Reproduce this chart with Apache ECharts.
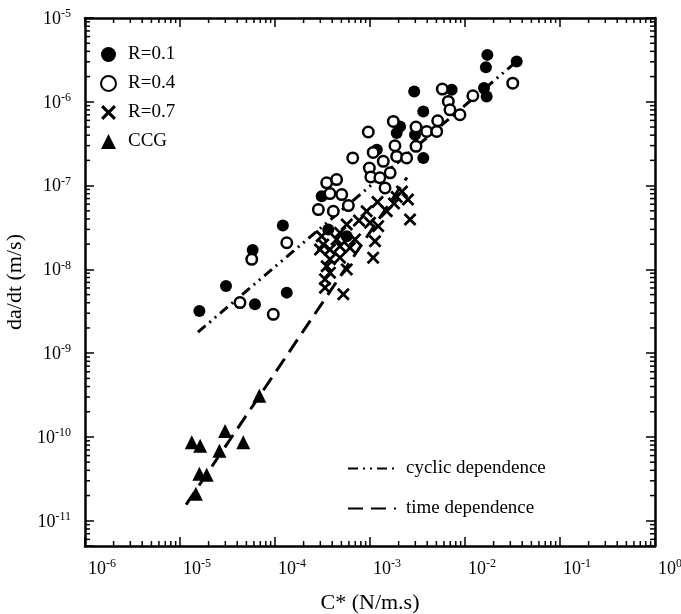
<!DOCTYPE html>
<html>
<head>
<meta charset="utf-8">
<script src="https://cdn.jsdelivr.net/npm/echarts@6/dist/echarts.min.js"></script>
<style>html,body{margin:0;padding:0;background:#fff}#c{width:681px;height:614px}</style>
</head>
<body>
<div id="c"></div>
<script>
// ---- data (C* in N/m.s, da/dt in m/s) ----
const seriesNames = ['R=0.1', 'R=0.4', 'R=0.7', 'CCG'];
const lineNames = ['cyclic dependence', 'time dependence'];
const r01 = [[1.60e-5,3.19e-9],[3.05e-5,6.33e-9],[5.82e-5,1.70e-8],[6.15e-5,3.83e-9],[1.33e-4,5.28e-9],[1.21e-4,3.34e-8],[3.10e-4,7.46e-8],[3.64e-4,2.99e-8],[5.69e-4,2.49e-8],[1.18e-3,2.68e-7],[1.91e-3,4.24e-7],[2.07e-3,5.08e-7],[2.92e-3,1.33e-6],[2.98e-3,4.05e-7],[3.64e-3,7.67e-7],[3.64e-3,2.14e-7],[7.24e-3,1.39e-6],[1.585e-2,1.46e-6],[1.69e-2,1.16e-6],[1.72e-2,3.63e-6],[1.66e-2,2.59e-6],[3.50e-2,3.02e-6]];
const r04 = [[4.28e-5,4.02e-9],[5.69e-5,1.32e-8],[9.59e-5,2.91e-9],[1.33e-4,2.08e-8],[2.86e-4,5.18e-8],[3.50e-4,1.08e-7],[4.45e-4,1.18e-7],[4.11e-4,4.94e-8],[3.79e-4,8.03e-8],[5.04e-4,7.81e-8],[5.92e-4,5.78e-8],[6.58e-4,2.14e-7],[9.59e-4,4.36e-7],[9.84e-4,1.62e-7],[1.08e-3,2.49e-7],[1.02e-3,1.27e-7],[1.27e-3,1.24e-7],[1.38e-3,1.95e-7],[1.44e-3,9.39e-8],[1.63e-3,1.42e-7],[1.76e-3,5.83e-7],[1.83e-3,2.99e-7],[1.91e-3,2.23e-7],[2.43e-3,2.14e-7],[3.05e-3,5.00e-7],[3.05e-3,2.94e-7],[3.95e-3,4.43e-7],[5.04e-3,4.43e-7],[5.16e-3,5.94e-7],[5.77e-3,1.42e-6],[6.67e-3,1.01e-6],[6.95e-3,8.03e-7],[8.85e-3,7.00e-7],[1.21e-2,1.18e-6],[3.18e-2,1.67e-6]];
const r07 = [[2.51e-3,6.81e-8],[2.64e-3,3.94e-8],[1.91e-3,7.30e-8],[1.79e-3,6.11e-8],[1.20e-3,6.37e-8],[1.50e-3,4.94e-8],[9.22e-4,4.94e-8],[7.66e-4,3.83e-8],[5.69e-4,3.43e-8],[4.83e-4,2.73e-8],[1.0e-3,3.60e-8],[1.22e-3,3.28e-8],[3.10e-4,2.49e-8],[3.22e-4,1.98e-8],[2.98e-4,1.73e-8],[3.79e-4,1.73e-8],[4.83e-4,1.89e-8],[6.95e-4,2.28e-8],[6.15e-4,1.81e-8],[1.13e-3,2.17e-8],[1.08e-3,1.38e-8],[3.79e-4,1.32e-8],[4.83e-4,1.38e-8],[3.50e-4,1.09e-8],[5.69e-4,1.0e-8],[3.79e-4,9.14e-9],[3.36e-4,7.60e-9],[3.36e-4,6.05e-9],[5.24e-4,5.04e-9],[4.45e-4,2.28e-8],[2.17e-3,8.49e-8]];
const ccg = [[6.84e-5,3.10e-10],[4.63e-5,8.65e-11],[2.98e-5,1.18e-10],[1.33e-5,8.65e-11],[1.63e-5,7.87e-11],[2.60e-5,6.87e-11],[1.60e-5,3.63e-11],[1.91e-5,3.53e-11],[1.47e-5,2.10e-11]];
const cyclicLine = [[1.545e-5,1.78e-9],[3.36e-2,2.91e-6]];
const timeLine = [[1.16e-5,1.56e-11],[2.45e-3,1.25e-7]];
const xRange = [1e-6, 1];
const yRange = [5e-12, 1e-5];
const xTickExponents = [-6,-5,-4,-3,-2,-1,0];
const yTickExponents = [-11,-10,-9,-8,-7,-6,-5];

// minor tick values (2..9 per decade)
const minorMult = [2,3,4,5,6,7,8,9];
const xMinor = [];
xTickExponents.slice(0,-1).forEach(e => minorMult.forEach(m => xMinor.push(m*Math.pow(10,e))));
const yMinor = [];
[-12].concat(yTickExponents.slice(0,-1)).forEach(e => minorMult.forEach(m => { const v = m*Math.pow(10,e); if (v > yRange[0] && v < yRange[1]) yMinor.push(v); }));

const FONT = "'Liberation Serif', 'DejaVu Serif', serif";
const XSHAPE = 'path://M0,3 L3,0 L10,7 L17,0 L20,3 L13,10 L20,17 L17,20 L10,13 L3,20 L0,17 L7,10 Z';

function expLabel(v) {
  const e = Math.log10(v);
  const r = Math.round(e);
  if (Math.abs(e - r) > 1e-6) return '';
  return '{b|10}{s|' + r + '}';
}
const richLab = {
  b: { fontFamily: FONT, fontSize: 18, color: '#000', verticalAlign: 'bottom' },
  s: { fontFamily: FONT, fontSize: 12, color: '#000', verticalAlign: 'bottom', padding: [0,0,8,0] }
};

function minorX(params, api) {
  const p = api.coord([api.value(0), 1e-8]);
  const cs = params.coordSys;
  const st = { stroke: '#000', lineWidth: 1.5 };
  return { type: 'group', children: [
    { type: 'line', shape: { x1: p[0], y1: cs.y + cs.height, x2: p[0], y2: cs.y + cs.height - 5 }, style: st },
    { type: 'line', shape: { x1: p[0], y1: cs.y, x2: p[0], y2: cs.y + 5 }, style: st }
  ]};
}
function minorY(params, api) {
  const p = api.coord([1e-3, api.value(1)]);
  const cs = params.coordSys;
  const st = { stroke: '#000', lineWidth: 1.5 };
  return { type: 'group', children: [
    { type: 'line', shape: { x1: cs.x, y1: p[1], x2: cs.x + 5, y2: p[1] }, style: st },
    { type: 'line', shape: { x1: cs.x + cs.width, y1: p[1], x2: cs.x + cs.width - 5, y2: p[1] }, style: st }
  ]};
}

const axisCommon = {
  type: 'log', logBase: 10,
  axisLine: { show: true, lineStyle: { color: '#000', width: 2.5 } },
  axisTick: { show: true, inside: true, length: 9, lineStyle: { color: '#000', width: 1.5 } },
  splitLine: { show: false },
  minorTick: { show: false }
};

const chart = echarts.init(document.getElementById('c'), null, { renderer: 'canvas' });
chart.setOption({
  animation: false,
  backgroundColor: '#fff',
  grid: { left: 85, top: 18, right: 26, bottom: 68, containLabel: false, outerBoundsMode: 'none' },
  xAxis: [
    Object.assign({}, axisCommon, {
      position: 'bottom', min: xRange[0], max: xRange[1],
      name: 'C* (N/m.s)', nameLocation: 'middle', nameGap: 46,
      nameTextStyle: { fontFamily: FONT, fontSize: 22, color: '#000' },
      axisLabel: { show: true, margin: 12, align: 'left', padding: [0,0,0,3], formatter: expLabel, rich: richLab, showMinLabel: true, showMaxLabel: true, hideOverlap: false }
    }),
    Object.assign({}, axisCommon, { position: 'top', min: xRange[0], max: xRange[1], axisLabel: { show: false } })
  ],
  yAxis: [
    Object.assign({}, axisCommon, {
      position: 'left', min: yRange[0], max: yRange[1],
      name: 'da/dt (m/s)', nameLocation: 'middle', nameGap: 57,
      nameTextStyle: { fontFamily: FONT, fontSize: 22, color: '#000' },
      axisLabel: { show: true, margin: 14, formatter: expLabel, rich: richLab, showMinLabel: true, showMaxLabel: true, hideOverlap: false }
    }),
    Object.assign({}, axisCommon, { position: 'right', min: yRange[0], max: yRange[1], axisLabel: { show: false } })
  ],
  legend: [
    {
      data: seriesNames, orient: 'vertical', left: 95, top: 40,
      itemWidth: 15, itemHeight: 15, itemGap: 10,
      textStyle: { fontFamily: FONT, fontSize: 19, color: '#000', padding: [0,0,0,7] },
      selectedMode: false
    },
    {
      data: lineNames, orient: 'vertical', left: 342, top: 454,
      itemWidth: 48, itemHeight: 14, itemGap: 21,
      itemStyle: { opacity: 0 },
      textStyle: { fontFamily: FONT, fontSize: 19, color: '#000', padding: [0,0,0,5] },
      selectedMode: false
    }
  ],
  series: [
    { type: 'custom', silent: true, xAxisIndex: 0, yAxisIndex: 0, renderItem: minorX, data: xMinor.map(v => [v, 1e-8]), z: 5 },
    { type: 'custom', silent: true, xAxisIndex: 0, yAxisIndex: 0, renderItem: minorY, data: yMinor.map(v => [1e-3, v]), z: 5 },
    { name: lineNames[0], type: 'line', data: cyclicLine, symbol: 'none', silent: true,
      itemStyle: { color: '#000', opacity: 0 },
      lineStyle: { color: '#000', width: 3, type: [10,5,2,5,2,5] }, z: 2 },
    { name: lineNames[1], type: 'line', data: timeLine, symbol: 'none', silent: true,
      itemStyle: { color: '#000', opacity: 0 },
      lineStyle: { color: '#000', width: 3, type: [15,8] }, z: 2 },
    { name: seriesNames[0], type: 'scatter', data: r01, symbol: 'circle', symbolSize: 12,
      itemStyle: { color: '#000', opacity: 1 }, z: 3 },
    { name: seriesNames[1], type: 'scatter', data: r04, symbol: 'circle', symbolSize: 10.5,
      itemStyle: { color: '#fff', borderColor: '#000', borderWidth: 2.5, opacity: 1 }, z: 4 },
    { name: seriesNames[2], type: 'scatter', data: r07, symbol: XSHAPE, symbolSize: 13,
      itemStyle: { color: '#000', opacity: 1 }, z: 4 },
    { name: seriesNames[3], type: 'scatter', data: ccg, symbol: 'triangle', symbolSize: 14,
      itemStyle: { color: '#000', opacity: 1 }, z: 4 }
  ]
});
</script>
</body>
</html>
